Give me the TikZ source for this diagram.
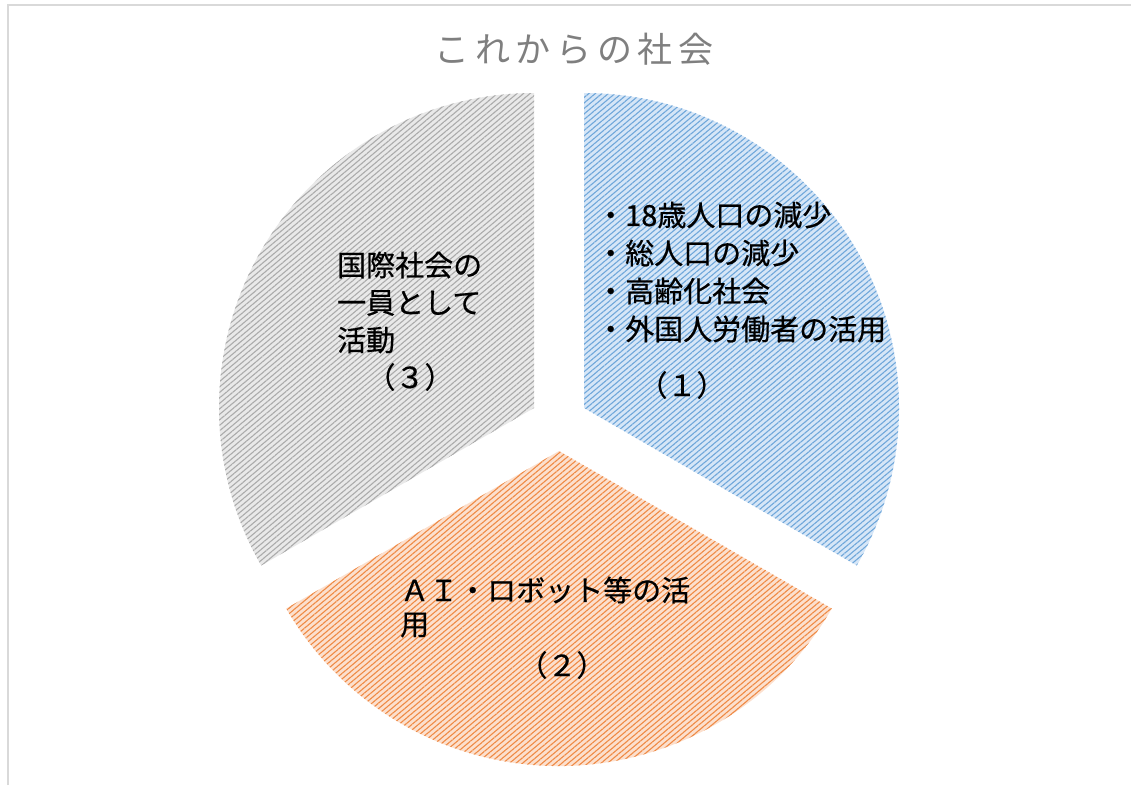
\documentclass[tikz,border=0pt]{standalone}
\usepackage{fontspec}
\newfontfamily\jp[FakeBold=0.6]{Noto Sans CJK JP}
\newfontfamily\jptitle[LetterSpace=16]{Noto Sans CJK JP}
\usetikzlibrary{patterns.meta}
\definecolor{bluefill}{HTML}{D6E6F7}
\definecolor{bluestripe}{HTML}{6FA7DA}
\definecolor{orfill}{HTML}{FCE0CE}
\definecolor{orstripe}{HTML}{EF8A45}
\definecolor{grfill}{HTML}{E9E9E9}
\definecolor{grstripe}{HTML}{ABABAB}
\definecolor{framecol}{HTML}{D9D9D9}
\definecolor{titlecol}{HTML}{7F7F7F}
\tikzset{
  slicehatch/.style={pattern={Lines[angle=40,distance=4.2pt,line width=1.1pt]}},
  bodytext/.style={inner sep=0pt, font=\jp\fontsize{29}{34}\selectfont, text=black},
  linetext/.style={bodytext, anchor=west},
}
\begin{document}
\begin{tikzpicture}[x=1pt,y=1pt]
\useasboundingbox (0,0) rectangle (1131,-785);
% frame (only top and left edges visible)
\draw[framecol, line width=2pt] (7.5,-785) -- (7.5,-5) -- (1131,-5);
% title
\node[inner sep=0pt, text=titlecol, font=\jptitle\fontsize{35}{40}\selectfont] (title) at (574,-49) {これからの社会};
% slice (1) blue
\fill[bluefill] (584,-408) -- ++(90:315) arc[start angle=90,end angle=-30,radius=315] -- cycle;
\fill[slicehatch, pattern color=bluestripe] (584,-408) -- ++(90:315) arc[start angle=90,end angle=-30,radius=315] -- cycle;
% slice (2) orange
\fill[orfill] (559,-451) -- ++(-30:315) arc[start angle=-30,end angle=-150,radius=315] -- cycle;
\fill[slicehatch, pattern color=orstripe] (559,-451) -- ++(-30:315) arc[start angle=-30,end angle=-150,radius=315] -- cycle;
% slice (3) gray
\fill[grfill] (534,-408) -- ++(90:315) arc[start angle=90,end angle=210,radius=315] -- cycle;
\fill[slicehatch, pattern color=grstripe] (534,-408) -- ++(90:315) arc[start angle=90,end angle=210,radius=315] -- cycle;
% texts slice 1
\node[linetext] (b1) at (596,-215) {・18歳人口の減少};
\node[linetext] (b2) at (596,-253) {・総人口の減少};
\node[linetext] (b3) at (596,-291) {・高齢化社会};
\node[linetext] (b4) at (596,-329) {・外国人労働者の活用};
\node[bodytext] (b5) at (682,-385) {（１）};
% texts slice 2
\node[linetext] (o1) at (400,-590) {ＡＩ・ロボット等の活};
\node[linetext] (o2) at (400,-625) {用};
\node[bodytext] (o3) at (562,-665) {（２）};
% texts slice 3
\node[linetext] (g1) at (337,-265) {国際社会の};
\node[linetext] (g2) at (337,-303) {一員として};
\node[linetext] (g3) at (337,-340) {活動};
\node[bodytext] (g4) at (410,-377) {（３）};
\end{tikzpicture}
\end{document}
